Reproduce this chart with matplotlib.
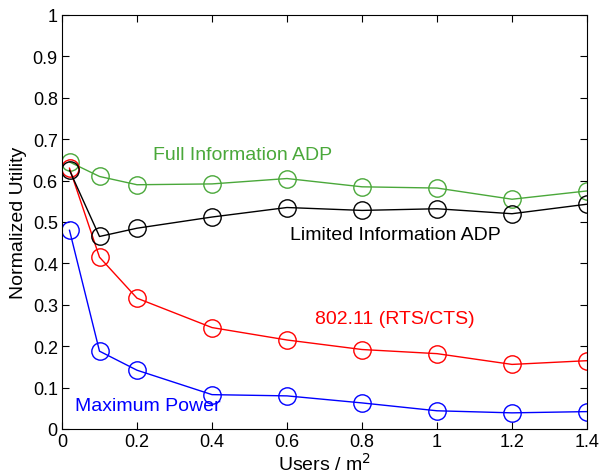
import matplotlib
matplotlib.use("Agg")
import matplotlib.pyplot as plt

plt.rcParams['font.family'] = ['Liberation Sans', 'DejaVu Sans']

x = [0.02, 0.1, 0.2, 0.4, 0.6, 0.8, 1.0, 1.2, 1.4]
full_info = [0.645, 0.61, 0.59, 0.592, 0.605, 0.585, 0.582, 0.555, 0.575]
limited_info = [0.625, 0.465, 0.485, 0.512, 0.535, 0.528, 0.532, 0.52, 0.543]
rts_cts = [0.63, 0.415, 0.316, 0.245, 0.215, 0.192, 0.182, 0.156, 0.165]
max_power = [0.48, 0.188, 0.142, 0.083, 0.08, 0.063, 0.044, 0.039, 0.042]

green = '#4aa83a'
fig = plt.figure(figsize=(6.02, 4.77), dpi=100)
ax = fig.add_axes([62/602, 1-430/477, (587-62)/602, (430-16)/477])

mk = dict(marker='o', markersize=12.5, markerfacecolor='none', linewidth=1, markeredgewidth=1)
ax.plot(x, full_info, color=green, **mk)
ax.plot(x, max_power, color='blue', **mk)
ax.plot(x, rts_cts, color='red', **mk)
ax.plot(x, limited_info, color='black', **mk)

fs = 14
ax.text(153/602, 1-155/477, 'Full Information ADP', color=green, fontsize=fs, transform=fig.transFigure, va='center')
ax.text(290/602, 1-235/477, 'Limited Information ADP', color='black', fontsize=fs, transform=fig.transFigure, va='center')
ax.text(315/602, 1-320/477, '802.11 (RTS/CTS)', color='red', fontsize=fs, transform=fig.transFigure, va='center')
ax.text(75/602, 1-407/477, 'Maximum Power', color='blue', fontsize=fs, transform=fig.transFigure, va='center')

ax.set_xlim(0, 1.4)
ax.set_ylim(0, 1)
ax.set_xticks([0, 0.2, 0.4, 0.6, 0.8, 1, 1.2, 1.4])
ax.set_xticklabels(['0', '0.2', '0.4', '0.6', '0.8', '1', '1.2', '1.4'])
ax.set_yticks([i/10 for i in range(11)])
ax.set_yticklabels(['0'] + [f'0.{i}' for i in range(1, 10)] + ['1'])
ax.tick_params(direction='in', top=True, right=True, labelsize=13, length=5, pad=3)
ax.set_xlabel('Users / m$^2$', fontsize=fs, labelpad=1)
ax.set_ylabel('Normalized Utility', fontsize=fs, labelpad=4)

fig.savefig('out.png', dpi=100)
